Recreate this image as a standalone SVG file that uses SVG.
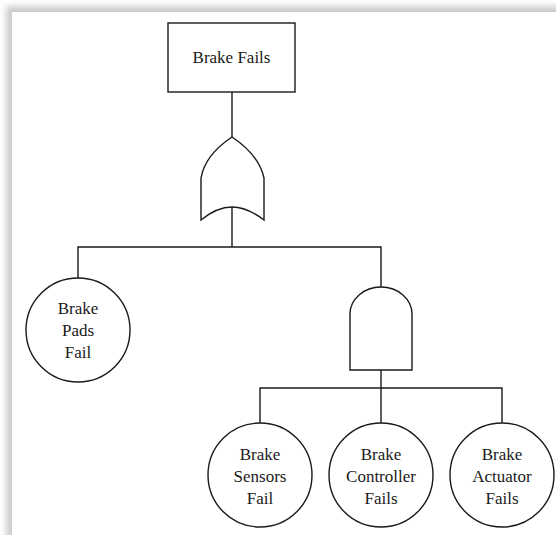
<svg xmlns="http://www.w3.org/2000/svg" width="556" height="535" viewBox="0 0 556 535">
  <style>
    .ln { fill: none; stroke: #1a1a1a; stroke-width: 1.4; }
    .nd { fill: #ffffff; stroke: #1a1a1a; stroke-width: 1.4; }
    .tx { font-size: 17px; fill: #1a1a1a; text-anchor: middle; }
  </style>
  <defs>
    <filter id="soft" x="-10%" y="-10%" width="120%" height="120%">
      <feGaussianBlur stdDeviation="3"/>
    </filter>
  </defs>

  <!-- page with a soft shadow along its top and left edges -->
  <rect x="0" y="0" width="556" height="535" fill="#ffffff"/>
  <rect x="6" y="6" width="600" height="600" fill="#cccccc" filter="url(#soft)"/>
  <rect x="12" y="12" width="600" height="600" fill="#ffffff"/>

  <!-- connectors -->
  <g id="connectors">
    <path class="ln" d="M232,92 V137"/>
    <path class="ln" d="M232,207 V247"/>
    <path class="ln" d="M78,278 V247 H381 V287"/>
    <path class="ln" d="M381,370 V388"/>
    <path class="ln" d="M260,423 V388 H502 V423"/>
    <path class="ln" d="M381,388 V423"/>
  </g>

  <g font-family="'Liberation Serif', 'Times New Roman', serif">
    <!-- top event -->
    <g id="brake-fails">
      <rect class="nd" x="168" y="23" width="127" height="69"/>
      <text class="tx" x="231.5" y="63">Brake Fails</text>
    </g>

    <!-- OR gate -->
    <g id="or-gate">
      <path class="nd" d="M232,137 Q205,155 201,178 V220 Q217,207 232,207 Q247,207 264,220 V178 Q259,155 232,137 Z"/>
    </g>

    <!-- basic event: pads -->
    <g id="brake-pads-fail">
      <circle class="nd" cx="78" cy="330" r="52"/>
      <text class="tx" x="78" y="314">Brake</text>
      <text class="tx" x="78" y="336">Pads</text>
      <text class="tx" x="78" y="358">Fail</text>
    </g>

    <!-- AND gate -->
    <g id="and-gate">
      <path class="nd" d="M350,370 V314 A31,27 0 0 1 412,314 V370 Z"/>
    </g>

    <!-- basic events under the AND gate -->
    <g id="brake-sensors-fail">
      <circle class="nd" cx="260" cy="475" r="52"/>
      <text class="tx" x="260" y="460">Brake</text>
      <text class="tx" x="260" y="482">Sensors</text>
      <text class="tx" x="260" y="504">Fail</text>
    </g>

    <g id="brake-controller-fails">
      <circle class="nd" cx="381" cy="475" r="52"/>
      <text class="tx" x="381" y="460">Brake</text>
      <text class="tx" x="381" y="482">Controller</text>
      <text class="tx" x="381" y="504">Fails</text>
    </g>

    <g id="brake-actuator-fails">
      <circle class="nd" cx="502" cy="475" r="52"/>
      <text class="tx" x="502" y="460">Brake</text>
      <text class="tx" x="502" y="482">Actuator</text>
      <text class="tx" x="502" y="504">Fails</text>
    </g>
  </g>
</svg>
